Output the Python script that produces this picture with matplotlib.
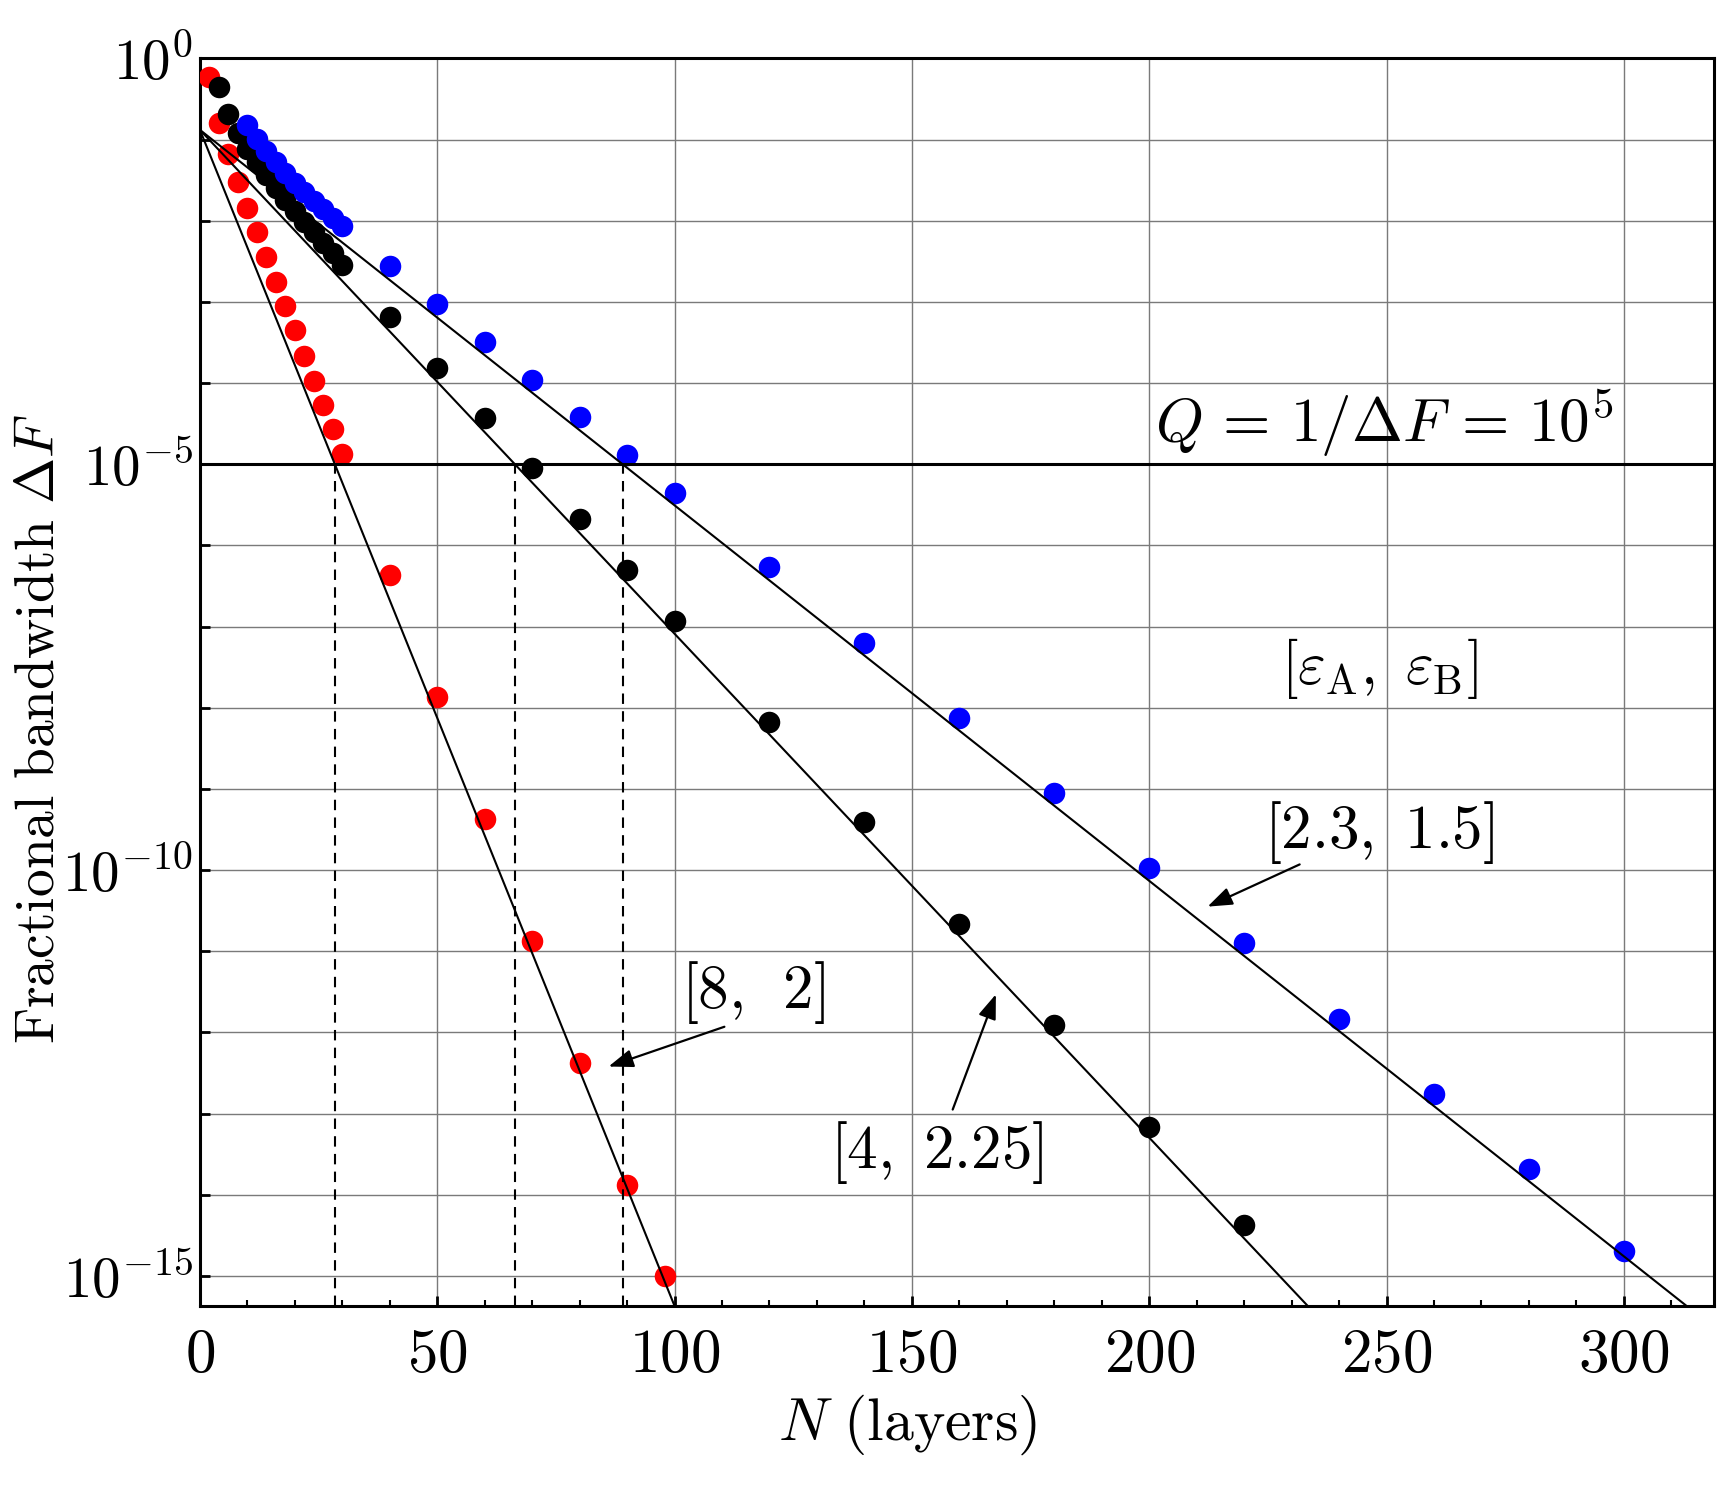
import numpy as np
import matplotlib
matplotlib.use("Agg")
import matplotlib.pyplot as plt

plt.rcParams["mathtext.fontset"] = "cm"
plt.rcParams["font.family"] = "serif"

# -----------------------------------------------------------------------------------
# Datos (exponentes log10 del ancho de banda fraccional)
red_N = [2, 4, 6, 8, 10, 12, 14, 16, 18, 20, 22, 24, 26, 28, 30,
         40, 50, 60, 70, 80, 90, 98]
red_log = [-0.23, -0.80, -1.18, -1.52, -1.84, -2.14, -2.45, -2.75, -3.05, -3.35,
           -3.67, -3.97, -4.27, -4.57, -4.87,
           -6.36, -7.87, -9.37, -10.87, -12.38, -13.88, -15.0]

black_N = [4, 6, 8, 10, 12, 14, 16, 18, 20, 22, 24, 26, 28, 30,
           40, 50, 60, 70, 80, 90, 100, 120, 140, 160, 180, 200, 220]
black_log = [-0.35, -0.68, -0.92, -1.11, -1.28, -1.44, -1.59, -1.74, -1.88, -2.01,
             -2.14, -2.27, -2.40, -2.54,
             -3.18, -3.81, -4.43, -5.05, -5.67, -6.30, -6.93, -8.17, -9.41,
             -10.67, -11.91, -13.16, -14.37]

blue_N = [10, 12, 14, 16, 18, 20, 22, 24, 26, 28, 30,
          40, 50, 60, 70, 80, 90, 100, 120, 140, 160, 180, 200, 220, 240, 260, 280, 300]
blue_log = [-0.82, -0.99, -1.14, -1.28, -1.41, -1.53, -1.65, -1.76, -1.86, -1.96, -2.06,
            -2.56, -3.03, -3.49, -3.96, -4.42, -4.88, -5.35, -6.27, -7.20, -8.13,
            -9.05, -9.98, -10.90, -11.83, -12.76, -13.68, -14.69]

# rectas asintoticas: log10(dF) = fit_intercept + pendiente * N
fit_intercept = -0.88
fit_slopes = [-0.1449, -0.06208, -0.04626]   # [8,2], [4,2.25], [2.3,1.5]

Q_level = 1e-5
x_ticks = [0, 50, 100, 150, 200, 250, 300]
y_decades = list(range(0, -16, -1))

# -----------------------------------------------------------------------------------
fig = plt.figure(figsize=(17.19, 14.91), dpi=100)
ax = fig.add_axes([0.1163, 0.1241, 0.8808, 0.8367])
ax.set_yscale("log")
ax.set_xlim(0, 319)
ax.set_ylim(10 ** -15.37, 1.0)

# rejilla
ax.set_axisbelow(True)
for xv in x_ticks[1:]:
    ax.axvline(xv, color="#7a7a7a", lw=1.0, zorder=0)
for d in y_decades:
    ax.axhline(10.0 ** d, color="#7a7a7a", lw=1.0, zorder=0)

# puntos
ax.plot(red_N, 10.0 ** np.array(red_log), "o", color="red", ms=15.5, mec="none", zorder=3)
ax.plot(black_N, 10.0 ** np.array(black_log), "o", color="black", ms=15.5, mec="none", zorder=3)
ax.plot(blue_N, 10.0 ** np.array(blue_log), "o", color="blue", ms=15.5, mec="none", zorder=3)

# rectas y lineas discontinuas
xx = np.linspace(0, 319, 400)
for s in fit_slopes:
    ax.plot(xx, 10.0 ** (fit_intercept + s * xx), color="black", lw=1.5, zorder=4)
    n_cross = (np.log10(Q_level) - fit_intercept) / s
    ax.plot([n_cross, n_cross], [10 ** -15.37, Q_level], color="black", lw=1.5,
            ls=(0, (5, 3.5)), zorder=4)

ax.axhline(Q_level, color="black", lw=2.2, zorder=4)
ax.text(249.4, 10 ** -4.93, r"$Q\,=\,1/\Delta F\,=\,10^5$", fontsize=44,
        ha="center", va="bottom", zorder=5)

# etiquetas y flechas
ax.text(248.5, 10 ** -7.51, r"$[\varepsilon_{\mathrm{A}},\ \varepsilon_{\mathrm{B}}]$",
        fontsize=43, ha="center", va="center")
arrow = dict(arrowstyle="-|>,head_length=0.6,head_width=0.22", color="black",
             lw=1.6, mutation_scale=25, shrinkA=0, shrinkB=0)
ax.text(248.4, 10 ** -9.54, r"$[2.3,\ 1.5]$", fontsize=44, ha="center", va="center")
ax.annotate("", xy=(212.3, 10 ** -10.45), xytext=(231.7, 10 ** -9.93), arrowprops=arrow)
ax.text(116.5, 10 ** -11.51, r"$[8,\ \,2]$", fontsize=44, ha="center", va="center")
ax.annotate("", xy=(86.1, 10 ** -12.42), xytext=(110.5, 10 ** -11.93), arrowprops=arrow)
ax.text(155.2, 10 ** -13.48, r"$[4,\ 2.25]$", fontsize=44, ha="center", va="center")
ax.annotate("", xy=(167.7, 10 ** -11.53), xytext=(158.6, 10 ** -12.95), arrowprops=arrow)

# ejes
ax.set_xticks(x_ticks)
ax.set_xticklabels([r"$%d$" % v for v in x_ticks])
ax.set_xticks(np.arange(0, 320, 10), minor=True)
ax.set_yticks([10.0 ** d for d in y_decades])
ax.set_yticklabels([r"$10^{%d}$" % d if d % 5 == 0 else "" for d in y_decades])
ax.yaxis.set_minor_locator(matplotlib.ticker.NullLocator())
ax.tick_params(axis="both", which="major", direction="in", length=7, width=2,
               top=False, right=False)
ax.tick_params(axis="x", which="major", pad=14, labelsize=44)
ax.tick_params(axis="y", which="major", pad=5, labelsize=41)
ax.tick_params(axis="x", which="minor", direction="in", length=4, width=1.5, top=False)
for sp in ax.spines.values():
    sp.set_linewidth(2.2)

fig.text(0.528, 0.0443, r"$N\ \mathrm{(layers)}$", fontsize=43, ha="center", va="center")
fig.text(0.0221, 0.511, r"$\mathrm{Fractional\ bandwidth}\ \Delta F$", fontsize=40,
         rotation=90, ha="center", va="center")

fig.savefig("out.png", dpi=100)
